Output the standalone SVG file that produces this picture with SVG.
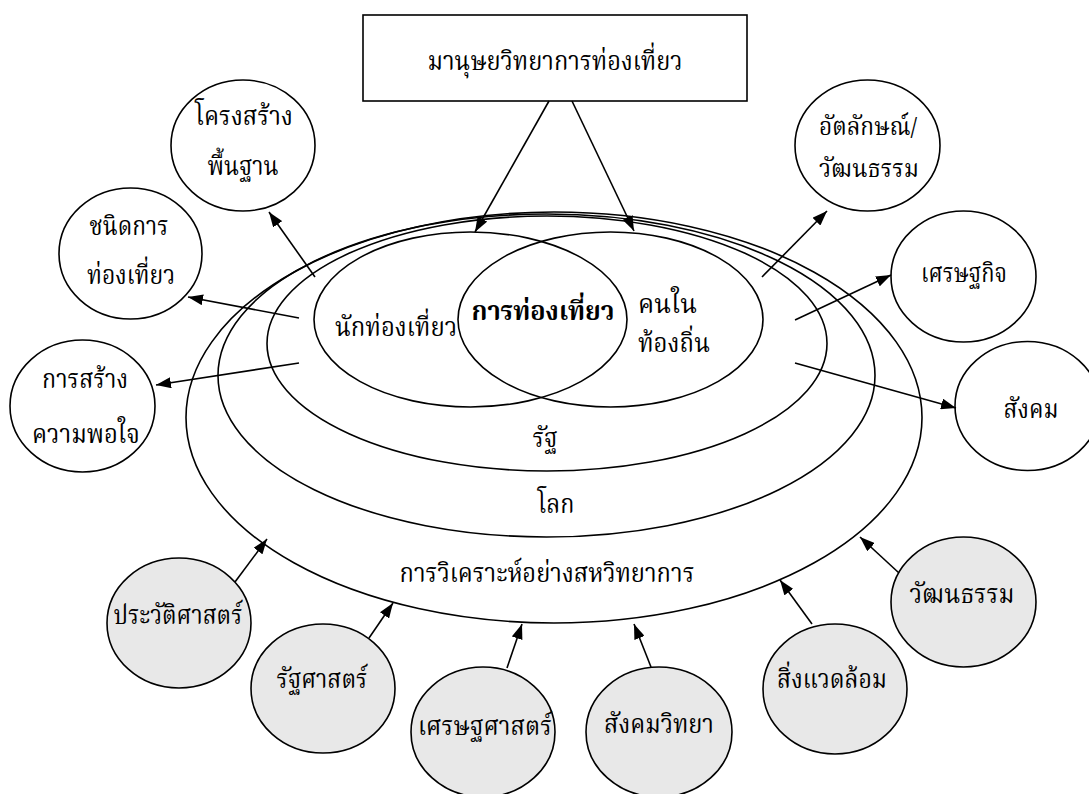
<svg xmlns="http://www.w3.org/2000/svg" width="1089" height="794" viewBox="0 0 1089 794">
<style>
.t{font-family:"Noto Serif Thai","Noto Sans Thai","Loma","Garuda","Norasi","DejaVu Sans","Liberation Serif",serif;font-size:26px;fill:#000;text-anchor:middle}
.b{font-weight:bold}
.s{text-anchor:start}
.sm{font-size:24px}
.e{fill:none;stroke:#000;stroke-width:1.6}
.n{fill:#fff;stroke:#000;stroke-width:1.6}
.g{fill:#e8e8e8;stroke:#000;stroke-width:1.6}
.c{fill:none;stroke:#000;stroke-width:1.6;marker-end:url(#ah)}
</style>
<defs>
<marker id="ah" viewBox="0 0 15 11" refX="15" refY="5.5" markerWidth="15" markerHeight="11" markerUnits="userSpaceOnUse" orient="auto">
<path d="M0,0 L15,5.5 L0,11 z" fill="#000"/>
</marker>
</defs>
<rect width="1089" height="794" fill="#fff"/>

<g id="analysis">
<ellipse class="e" cx="554" cy="417.5" rx="368" ry="205.5"/>
<text class="t" x="547" y="582" textLength="295" lengthAdjust="spacingAndGlyphs">การวิเคราะห์อย่างสหวิทยาการ</text>
</g>
<g id="world">
<ellipse class="e" cx="546.5" cy="375.5" rx="328.5" ry="161.5"/>
<text class="t" x="556" y="513" textLength="37" lengthAdjust="spacingAndGlyphs">โลก</text>
</g>
<g id="state">
<ellipse class="e" cx="547" cy="343.5" rx="280" ry="127.5"/>
<text class="t" x="545" y="447" textLength="25" lengthAdjust="spacingAndGlyphs">รัฐ</text>
</g>
<g id="tourists">
<ellipse class="e" cx="470.5" cy="319.5" rx="156.5" ry="87.5"/>
<text class="t" x="396" y="336" textLength="122" lengthAdjust="spacingAndGlyphs">นักท่องเที่ยว</text>
</g>
<g id="locals">
<ellipse class="e" cx="610.5" cy="319.5" rx="152.5" ry="87.5"/>
<text class="t s" x="638" y="313" textLength="59" lengthAdjust="spacingAndGlyphs">คนใน</text>
<text class="t s" x="638" y="352" textLength="72" lengthAdjust="spacingAndGlyphs">ท้องถิ่น</text>
</g>
<g id="tourism">
<text class="t b" x="543" y="320" textLength="143" lengthAdjust="spacingAndGlyphs">การท่องเที่ยว</text>
</g>

<g id="anthro">
<rect class="n" x="363" y="15" width="384" height="86"/>
<text class="t" x="555" y="70" textLength="255" lengthAdjust="spacingAndGlyphs">มานุษยวิทยาการท่องเที่ยว</text>
</g>

<g id="infra">
<ellipse class="n" cx="243" cy="145.5" rx="72" ry="65.5"/>
<text class="t" x="244" y="125" textLength="98" lengthAdjust="spacingAndGlyphs">โครงสร้าง</text>
<text class="t" x="243" y="175" textLength="71" lengthAdjust="spacingAndGlyphs">พื้นฐาน</text>
</g>
<g id="types">
<ellipse class="n" cx="130.5" cy="253.5" rx="71.5" ry="65.5"/>
<text class="t" x="129" y="235" textLength="79" lengthAdjust="spacingAndGlyphs">ชนิดการ</text>
<text class="t" x="131" y="284" textLength="88" lengthAdjust="spacingAndGlyphs">ท่องเที่ยว</text>
</g>
<g id="satisfaction">
<ellipse class="n" cx="82.5" cy="406" rx="72.5" ry="66"/>
<text class="t" x="85" y="388" textLength="86" lengthAdjust="spacingAndGlyphs">การสร้าง</text>
<text class="t" x="86" y="443" textLength="108" lengthAdjust="spacingAndGlyphs">ความพอใจ</text>
</g>
<g id="identity">
<ellipse class="n" cx="867.5" cy="145.5" rx="72.5" ry="65.5"/>
<text class="t sm" x="868" y="135" textLength="98" lengthAdjust="spacingAndGlyphs">อัตลักษณ์/</text>
<text class="t sm" x="869" y="177" textLength="100" lengthAdjust="spacingAndGlyphs">วัฒนธรรม</text>
</g>
<g id="economy">
<ellipse class="n" cx="963.5" cy="276.5" rx="72.5" ry="65.5"/>
<text class="t" x="964" y="282" textLength="86" lengthAdjust="spacingAndGlyphs">เศรษฐกิจ</text>
</g>
<g id="society">
<ellipse class="n" cx="1027.5" cy="406" rx="72.5" ry="64.5"/>
<text class="t" x="1031" y="418" textLength="55" lengthAdjust="spacingAndGlyphs">สังคม</text>
</g>

<g id="history">
<ellipse class="g" cx="179" cy="623" rx="72" ry="65"/>
<text class="t" x="178" y="624" textLength="129" lengthAdjust="spacingAndGlyphs">ประวัติศาสตร์</text>
</g>
<g id="polsci">
<ellipse class="g" cx="323" cy="688.5" rx="72" ry="64.5"/>
<text class="t" x="322" y="688" textLength="91" lengthAdjust="spacingAndGlyphs">รัฐศาสตร์</text>
</g>
<g id="econ">
<ellipse class="g" cx="483" cy="732" rx="72" ry="65"/>
<text class="t" x="485" y="735" textLength="134" lengthAdjust="spacingAndGlyphs">เศรษฐศาสตร์</text>
</g>
<g id="sociology">
<ellipse class="g" cx="659" cy="732" rx="73" ry="65"/>
<text class="t" x="659" y="733" textLength="110" lengthAdjust="spacingAndGlyphs">สังคมวิทยา</text>
</g>
<g id="environment">
<ellipse class="g" cx="835" cy="689" rx="72" ry="65"/>
<text class="t" x="832" y="688" textLength="110" lengthAdjust="spacingAndGlyphs">สิ่งแวดล้อม</text>
</g>
<g id="culture">
<ellipse class="g" cx="963.5" cy="602" rx="72.5" ry="65"/>
<text class="t" x="962" y="603" textLength="105" lengthAdjust="spacingAndGlyphs">วัฒนธรรม</text>
</g>

<g id="connectors">
<line class="c" x1="549" y1="101" x2="475" y2="232"/>
<line class="c" x1="572" y1="101" x2="634" y2="231"/>
<line class="c" x1="315" y1="277" x2="269" y2="212"/>
<line class="c" x1="299" y1="318" x2="188" y2="297"/>
<line class="c" x1="299" y1="363" x2="156" y2="385"/>
<line class="c" x1="762" y1="277" x2="827" y2="211"/>
<line class="c" x1="795" y1="320" x2="891" y2="275"/>
<line class="c" x1="795" y1="363" x2="956" y2="408"/>
<line class="c" x1="235" y1="582" x2="267" y2="539"/>
<line class="c" x1="369" y1="638" x2="393" y2="603"/>
<line class="c" x1="507" y1="668" x2="522" y2="624"/>
<line class="c" x1="651" y1="667" x2="634" y2="624"/>
<line class="c" x1="812" y1="624" x2="780" y2="580"/>
<line class="c" x1="899" y1="573" x2="860" y2="537"/>
</g>
</svg>
